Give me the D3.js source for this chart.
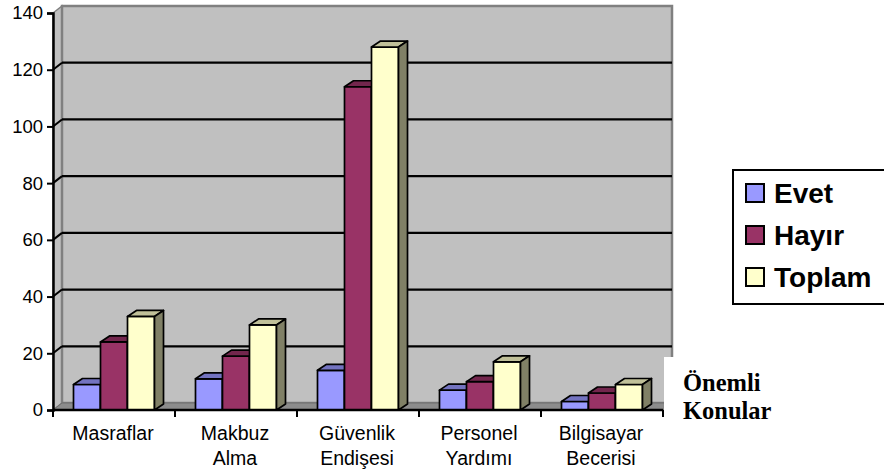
<!DOCTYPE html>
<html>
<head>
<meta charset="utf-8">
<script src="https://cdn.jsdelivr.net/npm/d3@7"></script>
<style>
  body { margin: 0; background: #fff; }
  svg { display: block; }
</style>
</head>
<body>
<svg width="884" height="475"></svg>
<script>
// data
const categories = [["Masraflar"], ["Makbuz", "Alma"], ["Güvenlik", "Endişesi"], ["Personel", "Yardımı"], ["Bilgisayar", "Becerisi"]];
const seriesNames = ["Evet", "Hayır", "Toplam"];
const evet = [9, 11, 14, 7, 3];
const hayir = [24, 19, 114, 10, 6];
const toplam = [33, 30, 128, 17, 9];
const yTicks = [0, 20, 40, 60, 80, 100, 120, 140];

const seriesValues = [evet, hayir, toplam];
const colors = {
  front: ["#9999ff", "#993366", "#ffffcc"],
  top:   ["#7373c0", "#73264d", "#c0c099"],
  side:  ["#5c5c99", "#5c1f3d", "#808066"]
};

const svg = d3.select("svg");
const plotLeft = 53, plotRight = 663, plotBottom = 410, plotTop = 13;
const dx = 9, dy = -7;      // depth of the walls
const bdx = 9, bdy = -6;    // depth of the bars

const y = d3.scaleLinear().domain([0, 140]).range([plotBottom, plotTop]);
const x0 = d3.scaleBand()
  .domain(d3.range(categories.length))
  .range([plotLeft, plotRight])
  .paddingInner(0.336)
  .paddingOuter(0.168);
const x1 = d3.scaleBand()
  .domain(seriesNames)
  .range([0, x0.bandwidth()]);

// walls
svg.append("polygon")
  .attr("points", [[plotLeft, plotBottom], [plotLeft, plotTop], [plotLeft + dx, plotTop + dy], [plotLeft + dx, plotBottom + dy]].join(" "))
  .attr("fill", "#c0c0c0").attr("stroke", "#808080").attr("stroke-width", 1.5);
svg.append("rect")
  .attr("x", plotLeft + dx).attr("y", plotTop + dy)
  .attr("width", plotRight - plotLeft).attr("height", plotBottom - plotTop)
  .attr("fill", "#c0c0c0").attr("stroke", "#808080").attr("stroke-width", 2.5);
svg.append("polygon")
  .attr("points", [[plotLeft, plotBottom], [plotLeft + dx, plotBottom + dy], [plotRight + dx, plotBottom + dy], [plotRight, plotBottom]].join(" "))
  .attr("fill", "#8c8c8c").attr("stroke", "#6e6e6e").attr("stroke-width", 1);

// gridlines
const grid = svg.append("g");
yTicks.filter(v => v > 0 && v < 140).forEach(v => {
  grid.append("line")
    .attr("x1", plotLeft + dx).attr("x2", plotRight + dx)
    .attr("y1", y(v) + dy).attr("y2", y(v) + dy)
    .attr("stroke", "#000").attr("stroke-width", 2.2);
  grid.append("line")
    .attr("x1", plotLeft).attr("x2", plotLeft + dx)
    .attr("y1", y(v)).attr("y2", y(v) + dy)
    .attr("stroke", "#000").attr("stroke-width", 2);
});

// bars
const bars = svg.append("g").attr("stroke", "#000").attr("stroke-width", 1.7).attr("stroke-linejoin", "round");
categories.forEach((c, i) => {
  seriesNames.forEach((s, j) => {
    const v = seriesValues[j][i];
    const bx = x0(i) + x1(s), bw = x1.bandwidth();
    const by = y(v), bb = y(0);
    bars.append("rect")
      .attr("x", bx).attr("y", by).attr("width", bw).attr("height", bb - by)
      .attr("fill", colors.front[j]);
    bars.append("polygon")
      .attr("points", [[bx, by], [bx + bdx, by + bdy], [bx + bw + bdx, by + bdy], [bx + bw, by]].join(" "))
      .attr("fill", colors.top[j]);
    bars.append("polygon")
      .attr("points", [[bx + bw, by], [bx + bw + bdx, by + bdy], [bx + bw + bdx, bb + bdy], [bx + bw, bb]].join(" "))
      .attr("fill", colors.side[j]);
  });
});

// white box behind the axis title
svg.append("rect")
  .attr("x", 664).attr("y", 357).attr("width", 230).attr("height", 130)
  .attr("fill", "#fff");

// y axis
const yAxis = svg.append("g")
  .attr("transform", `translate(${plotLeft},0)`)
  .call(d3.axisLeft(y).tickValues(yTicks).tickSize(6).tickPadding(4));
yAxis.select(".domain").attr("stroke-width", 2.5);
yAxis.selectAll(".tick line").attr("stroke-width", 2);
yAxis.selectAll("text")
  .attr("font-family", "Liberation Sans, Arial, sans-serif")
  .attr("font-size", 18.5).attr("fill", "#000");

// x axis
const xAxis = svg.append("g")
  .attr("transform", `translate(0,${plotBottom})`);
xAxis.append("line")
  .attr("x1", plotLeft).attr("x2", plotRight).attr("stroke", "#000").attr("stroke-width", 2.5);
d3.range(categories.length + 1).forEach(i => {
  const tx = plotLeft + i * x0.step();
  xAxis.append("line")
    .attr("x1", tx).attr("x2", tx).attr("y1", 0).attr("y2", 7)
    .attr("stroke", "#000").attr("stroke-width", 2);
});
categories.forEach((c, i) => {
  const cx = x0(i) + x0.bandwidth() / 2 - 1;
  const t = xAxis.append("text")
    .attr("y", 30)
    .attr("text-anchor", "middle")
    .attr("font-family", "Liberation Sans, Arial, sans-serif")
    .attr("font-size", 19.5);
  c.forEach((line, k) => {
    t.append("tspan").attr("x", cx).attr("dy", k ? 25 : 0).text(line);
  });
});

// axis title
const title = svg.append("text")
  .attr("font-family", "Liberation Serif, Times New Roman, serif")
  .attr("font-weight", "bold").attr("font-size", 24.5).attr("fill", "#000");
title.append("tspan").attr("x", 683).attr("y", 391).text("Önemli");
title.append("tspan").attr("x", 683).attr("y", 419).text("Konular");

// legend
const legend = svg.append("g");
legend.append("rect")
  .attr("x", 733).attr("y", 170).attr("width", 170).attr("height", 134)
  .attr("fill", "#fff").attr("stroke", "#000").attr("stroke-width", 2);
seriesNames.forEach((s, j) => {
  const cy = 193 + j * 42;
  legend.append("rect")
    .attr("x", 746).attr("y", cy - 9).attr("width", 18).attr("height", 18)
    .attr("fill", colors.front[j]).attr("stroke", "#000").attr("stroke-width", 2);
  legend.append("text")
    .attr("x", 774).attr("y", cy + 10)
    .attr("font-family", "Liberation Sans, Arial, sans-serif")
    .attr("font-weight", "bold").attr("font-size", 28)
    .text(s);
});
</script>
</body>
</html>
